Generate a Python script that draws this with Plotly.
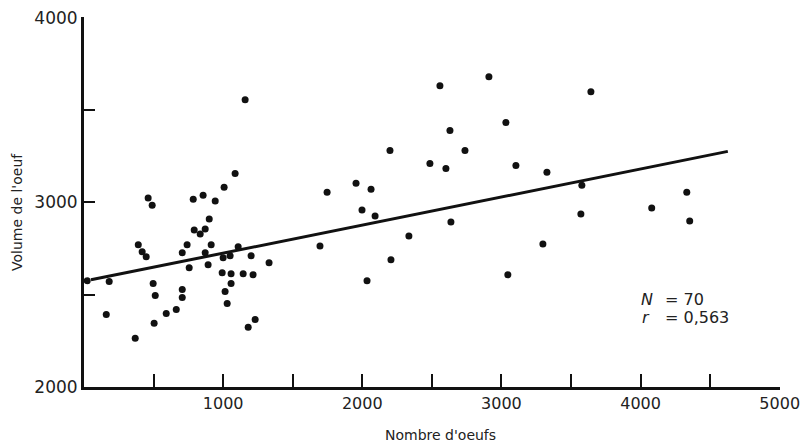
import plotly.graph_objects as go

# Egg count (x) and egg volume (y)
nombre_oeufs = [23, 181, 160, 368, 390, 418, 447, 461, 490, 497, 512, 504, 591, 663,
                706, 706, 706, 741, 756, 792, 835, 871, 900, 871, 892, 914, 785, 856,
                943, 1007, 1086, 1158, 1000, 1050, 993, 1057, 1057, 1014, 1029, 1108,
                1144, 1201, 1215, 1180, 1230, 1330, 1747, 1955, 2063, 1998, 2092, 2199,
                2486, 2601, 2630, 2558, 2738, 2910, 3032, 3104, 3327, 1696, 2637, 2335,
                2206, 2034, 3046, 3298, 3643, 3578, 3571, 4080, 4332, 4353]
volume_oeuf = [2576, 2571, 2393, 2264, 2770, 2732, 2705, 3023, 2985, 2560, 2495, 2345,
               2398, 2420, 2528, 2485, 2727, 2770, 2646, 2851, 2829, 2856, 2910, 2727,
               2662, 2770, 3017, 3039, 3007, 3082, 3157, 3556, 2700, 2711, 2619, 2614,
               2560, 2517, 2452, 2759, 2614, 2711, 2608, 2323, 2366, 2673, 3055, 3104,
               3071, 2958, 2926, 3281, 3211, 3184, 3389, 3631, 3281, 3680, 3432, 3200,
               3163, 2764, 2894, 2818, 2689, 2576, 2608, 2775, 3599, 3093, 2937, 2969,
               3055, 2899]

# Regression line
reg_intercept = 2573
reg_slope = 0.152
reg_x = [50, 4627]
reg_y = [reg_intercept + reg_slope * v for v in reg_x]

x_tickvals = [500, 1000, 1500, 2000, 2500, 3000, 3500, 4000, 4500, 5000]
x_ticktext = ["", "1000", "", "2000", "", "3000", "", "4000", "", "5000"]
y_tickvals = [2000, 2500, 3000, 3500, 4000]
y_ticktext = ["2000", "", "3000", "", "4000"]

FONT = "DejaVu Sans"
INK = "#111111"
TXT = "#222222"

# the page body adds an 8px offset; figure size/margins compensate for it
fig = go.Figure()
fig.add_trace(go.Scatter(x=reg_x, y=reg_y, mode="lines",
                         line=dict(color=INK, width=3), hoverinfo="skip"))
fig.add_trace(go.Scatter(x=nombre_oeufs, y=volume_oeuf, mode="markers",
                         marker=dict(color=INK, size=7)))

fig.update_layout(
    width=801, height=438,
    margin=dict(l=76, r=29, t=9, b=59, autoexpand=False),
    paper_bgcolor="white", plot_bgcolor="white",
    showlegend=False,
    font=dict(family=FONT, color=INK),
)
fig.update_xaxes(range=[0, 5002], showline=True, linecolor=INK, linewidth=3,
                 ticks="inside", ticklen=13, tickwidth=2, tickcolor=INK,
                 tickvals=x_tickvals, ticktext=x_ticktext, automargin=False,
                 ticklabeloverflow="allow",
                 tickfont=dict(size=16, family=FONT, color=TXT),
                 showgrid=False, zeroline=False)
fig.update_yaxes(range=[2000, 4004], showline=True, linecolor=INK, linewidth=3,
                 ticks="inside", ticklen=11, tickwidth=2, tickcolor=INK,
                 tickvals=y_tickvals, ticktext=y_ticktext, automargin=False,
                 ticklabeloverflow="allow",
                 tickfont=dict(size=17, family=FONT, color=TXT),
                 showgrid=False, zeroline=False)

# Axis titles
fig.add_annotation(text="Nombre d'oeufs", xref="paper", yref="paper",
                   x=(440 - 84) / 696, xanchor="center", y=0, yanchor="middle",
                   yshift=-48, showarrow=False,
                   font=dict(size=14, family=FONT, color=TXT))
fig.add_annotation(text="Volume de l'oeuf", xref="paper", yref="paper",
                   x=0, xanchor="center", xshift=-67, y=(387 - 212) / 370,
                   yanchor="middle", textangle=-90,
                   showarrow=False, font=dict(size=14, family=FONT, color=TXT))

# Statistics
fig.add_annotation(text="<i>N</i>", x=3990, y=2474, xanchor="left", showarrow=False,
                   font=dict(size=16, family=FONT, color=TXT))
fig.add_annotation(text="= 70", x=4160, y=2474, xanchor="left", showarrow=False,
                   font=dict(size=16, family=FONT, color=TXT))
fig.add_annotation(text="<i>r</i>", x=3995, y=2377, xanchor="left", showarrow=False,
                   font=dict(size=16, family=FONT, color=TXT))
fig.add_annotation(text="= 0,563", x=4160, y=2377, xanchor="left", showarrow=False,
                   font=dict(size=16, family=FONT, color=TXT))

fig.write_html("out.html")
